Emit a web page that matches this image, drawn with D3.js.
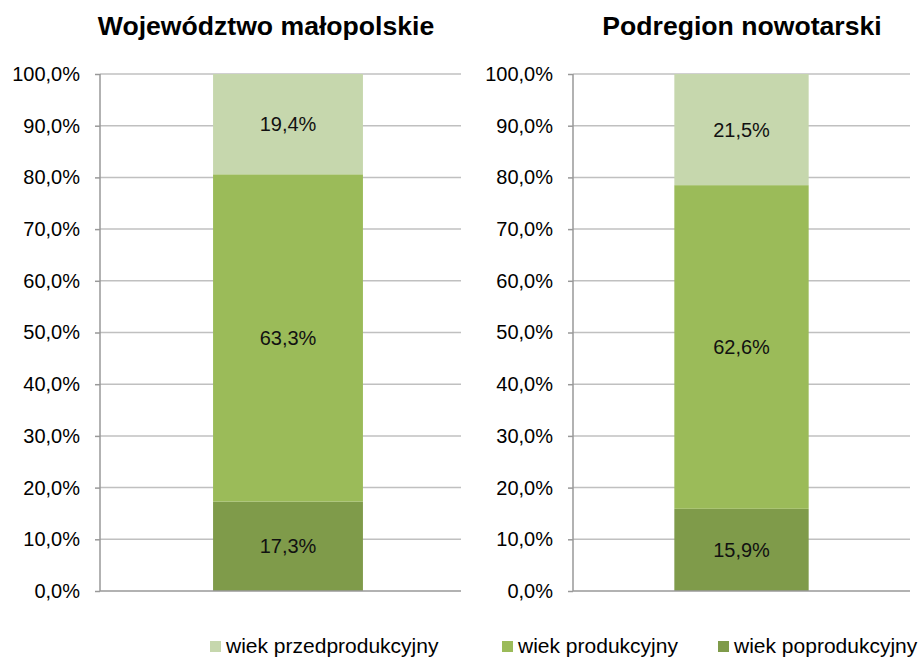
<!DOCTYPE html>
<html>
<head>
	<meta charset="utf-8">
	<title>wiek ludności</title>
	<script src="https://d3js.org/d3.v7.min.js"></script>
	<style>
		body {
			margin: 0;
			background: #fff;
			font-family: 'Liberation Sans', Arial, sans-serif;
		}
		.title {
			font-size: 26.6px;
			font-weight: bold;
			fill: #000;
		}
		.axis text {
			font-size: 20px;
			fill: #000;
		}
		.value {
			font-size: 20px;
			fill: #111;
		}
		.legend text {
			font-size: 21px;
			fill: #000;
		}
	</style>
</head>
<body>
<div id="chart"></div>
<script>
	// Data.
	const regions = ['Województwo małopolskie', 'Podregion nowotarski'];
	const groups = ['wiek przedprodukcyjny', 'wiek produkcyjny', 'wiek poprodukcyjny'];
	const przedprodukcyjny = [19.4, 21.5];
	const produkcyjny = [63.3, 62.6];
	const poprodukcyjny = [17.3, 15.9];
	const yTicks = [0, 10, 20, 30, 40, 50, 60, 70, 80, 90, 100];

	const colors = {
		'wiek przedprodukcyjny': '#c6d7ad',
		'wiek produkcyjny': '#9bbb59',
		'wiek poprodukcyjny': '#7f9b4a'
	};

	const width = 918, height = 657;
	const pl = d3.formatLocale({decimal: ',', thousands: ' ', grouping: [3], currency: ['', ' zł']});
	const fmt = pl.format('.1f');

	// Panel geometry (plot left, grid end, band range end).
	const panels = [
		{left: 100, gridEnd: 461, bandEnd: 476, titleX: 266},
		{left: 573, gridEnd: 910, bandEnd: 910, titleX: 742}
	];

	const svg = d3.select('#chart').append('svg')
		.attr('width', width)
		.attr('height', height);

	const y = d3.scaleLinear().domain([0, 100]).range([591, 74]);

	regions.forEach(function (name, i) {
		const p = panels[i];
		const g = svg.append('g');

		// Stack bottom to top: poprodukcyjny, produkcyjny, przedprodukcyjny.
		const row = {
			'wiek poprodukcyjny': poprodukcyjny[i],
			'wiek produkcyjny': produkcyjny[i],
			'wiek przedprodukcyjny': przedprodukcyjny[i]
		};
		const stacked = d3.stack()
			.keys(['wiek poprodukcyjny', 'wiek produkcyjny', 'wiek przedprodukcyjny'])([row]);

		const x = d3.scaleBand().domain([name]).range([p.left, p.bandEnd])
			.paddingInner(0.43).paddingOuter(0.43);

		g.append('text')
			.attr('class', 'title')
			.attr('x', p.titleX)
			.attr('y', 35)
			.attr('text-anchor', 'middle')
			.text(name);

		// Gridlines.
		g.append('g')
			.selectAll('line')
			.data(yTicks.slice(1))
			.join('line')
				.attr('x1', p.left)
				.attr('x2', p.gridEnd)
				.attr('y1', d => y(d))
				.attr('y2', d => y(d))
				.attr('stroke', '#c0c0c0')
				.attr('stroke-width', 1.5);

		// Bars.
		g.append('g')
			.selectAll('rect')
			.data(stacked)
			.join('rect')
				.attr('x', x(name))
				.attr('width', x.bandwidth())
				.attr('y', d => y(d[0][1]))
				.attr('height', d => y(d[0][0]) - y(d[0][1]))
				.attr('fill', d => colors[d.key]);

		g.append('g')
			.selectAll('text')
			.data(stacked)
			.join('text')
				.attr('class', 'value')
				.attr('x', x(name) + x.bandwidth() / 2)
				.attr('y', d => y((d[0][0] + d[0][1]) / 2))
				.attr('dy', '0.35em')
				.attr('text-anchor', 'middle')
				.text(d => fmt(d[0][1] - d[0][0]) + '%');

		// Y axis.
		const axis = g.append('g')
			.attr('class', 'axis')
			.attr('transform', 'translate(' + p.left + ',0)')
			.call(d3.axisLeft(y).tickValues(yTicks).tickSize(5).tickPadding(15)
				.tickFormat(d => fmt(d) + '%'));
		axis.select('.domain').remove();
		axis.selectAll('line').attr('stroke', '#999').attr('stroke-width', 1.5);
		axis.append('line')
			.attr('y1', y(0)).attr('y2', y(100))
			.attr('stroke', '#999').attr('stroke-width', 1.5);
		axis.append('line')
			.attr('x1', 0).attr('x2', p.gridEnd - p.left)
			.attr('y1', y(0)).attr('y2', y(0))
			.attr('stroke', '#999').attr('stroke-width', 1.5);
		axis.selectAll('text').attr('font-family', null).attr('font-size', null);
	});

	// Legend.
	const legendX = [210, 502, 718];
	const legend = svg.append('g').attr('class', 'legend');
	const items = legend.selectAll('g')
		.data(groups)
		.join('g')
			.attr('transform', (d, i) => 'translate(' + legendX[i] + ',641)');
	items.append('rect')
		.attr('width', 11).attr('height', 11)
		.attr('fill', d => colors[d]);
	items.append('text')
		.attr('x', 16)
		.attr('y', 12)
		.text(d => d);
</script>
</body>
</html>
